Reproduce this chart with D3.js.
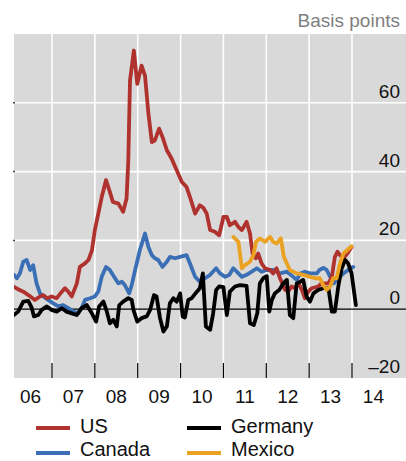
<!DOCTYPE html>
<html>
<head>
<meta charset="utf-8">
<script src="https://cdn.jsdelivr.net/npm/d3@7"></script>
<style>
  body { margin: 0; background: #fff; }
  svg { display: block; font-family: "Liberation Sans", Arial, sans-serif; }
  .grid line { stroke: #fff; stroke-width: 1.6; }
  .series { fill: none; stroke-width: 3.8; stroke-linejoin: round; stroke-linecap: round; }
</style>
</head>
<body>
<svg id="chart" width="406" height="461"></svg>
<script>
// dates are decimal years, values in basis points
const usDates = [2006.11, 2006.21, 2006.33, 2006.45, 2006.60, 2006.72, 2006.80, 2006.88, 2006.99, 2007.11,
  2007.23, 2007.30, 2007.38, 2007.46, 2007.58, 2007.65, 2007.77, 2007.85, 2007.93, 2008.00,
  2008.08, 2008.16, 2008.26, 2008.35, 2008.42, 2008.55, 2008.66, 2008.74, 2008.78, 2008.82,
  2008.91, 2008.99, 2009.09, 2009.17, 2009.25, 2009.33, 2009.40, 2009.50, 2009.58, 2009.68,
  2009.79, 2009.91, 2010.03, 2010.14, 2010.22, 2010.34, 2010.45, 2010.53, 2010.61, 2010.69,
  2010.80, 2010.90, 2011.00, 2011.08, 2011.15, 2011.27, 2011.35, 2011.43, 2011.54, 2011.62,
  2011.68, 2011.76, 2011.81, 2011.89, 2011.97, 2012.09, 2012.16, 2012.24, 2012.32, 2012.44,
  2012.51, 2012.59, 2012.67, 2012.75, 2012.83, 2012.90, 2012.98, 2013.06, 2013.21, 2013.29,
  2013.45, 2013.53, 2013.60, 2013.66, 2013.72, 2013.80, 2013.89, 2013.99];
const usValues = [6.5, 5.8, 5.1, 4.1, 2.7, 3.7, 4.1, 3.2, 3.7, 3.2,
  5.1, 6.1, 5.1, 3.7, 7.5, 12.3, 13.3, 14.3, 17, 23,
  27.8, 32.6, 37.5, 34.1, 31.2, 30.7, 28.3, 32.2, 43, 66.5,
  75.2, 65.5, 70.8, 67.9, 56.8, 48.6, 49.1, 52.5, 50, 46.2,
  43.8, 40.4, 37, 35.5, 32.6, 27.8, 30.2, 29.5, 27.8, 23,
  22.5, 21.5, 26.8, 26.8, 24.4, 25.4, 23.9, 23, 25.4, 22,
  16.2, 14.8, 16.2, 13.3, 11.9, 11.4, 10.4, 11.9, 9, 5.6,
  5.1, 6.6, 6.1, 7.5, 5.6, 3.2, 5.1, 6.1, 6.6, 7.5,
  7.5, 9.4, 15.2, 16.7, 15.7, 14.8, 16.2, 18.1];

const canadaDates = [2006.11, 2006.18, 2006.25, 2006.33, 2006.41, 2006.49, 2006.56, 2006.64, 2006.72, 2006.80,
  2006.91, 2007.03, 2007.15, 2007.26, 2007.38, 2007.50, 2007.61, 2007.69, 2007.77, 2007.89,
  2008.00, 2008.08, 2008.16, 2008.26, 2008.35, 2008.47, 2008.55, 2008.63, 2008.70, 2008.80,
  2008.86, 2008.94, 2009.05, 2009.17, 2009.25, 2009.33, 2009.40, 2009.48, 2009.58, 2009.68,
  2009.75, 2009.87, 2009.99, 2010.14, 2010.22, 2010.34, 2010.45, 2010.57, 2010.69, 2010.83,
  2010.92, 2011.04, 2011.14, 2011.23, 2011.35, 2011.43, 2011.54, 2011.66, 2011.78, 2011.89,
  2012.01, 2012.16, 2012.32, 2012.48, 2012.63, 2012.71, 2012.79, 2012.90, 2013.02, 2013.18,
  2013.24, 2013.33, 2013.41, 2013.49, 2013.58, 2013.68, 2013.80, 2013.91, 2014.03];
const canadaValues = [10, 9, 10.4, 13.8, 14.3, 11.4, 12.8, 7.5, 4.6, 3.7,
  2.7, 1.7, 0.8, 1.2, 0.3, -0.7, -1.2, 0.3, 2.7, 3.2,
  3.7, 5.1, 9.4, 12.3, 11.4, 9, 7.5, 8, 7, 4.6,
  7, 11.4, 17.2, 22, 18.1, 15.7, 14.8, 14.3, 12.3, 13.8,
  15.2, 14.8, 15.2, 15.7, 13.3, 9.4, 8, 9, 10, 11.9,
  10.4, 9.4, 10, 11.9, 10.4, 9.4, 10, 10.9, 11.9, 10.9,
  11.4, 11.4, 10.4, 10.9, 9.4, 8.5, 10.4, 10.9, 10.4, 10.4,
  11.4, 12, 11.4, 9.4, 7.5, 9, 10.4, 11.4, 12.3];

const germanyDates = [2006.11, 2006.21, 2006.33, 2006.45, 2006.53, 2006.58, 2006.68, 2006.76, 2006.88, 2006.99,
  2007.11, 2007.23, 2007.34, 2007.46, 2007.58, 2007.69, 2007.81, 2007.93, 2008.03, 2008.10,
  2008.20, 2008.28, 2008.35, 2008.43, 2008.51, 2008.57, 2008.66, 2008.78, 2008.86, 2008.90,
  2008.99, 2009.09, 2009.21, 2009.29, 2009.38, 2009.44, 2009.52, 2009.60, 2009.68, 2009.75,
  2009.83, 2009.91, 2009.99, 2010.05, 2010.10, 2010.18, 2010.26, 2010.38, 2010.45, 2010.52,
  2010.59, 2010.69, 2010.76, 2010.83, 2010.90, 2011.00, 2011.08, 2011.15, 2011.27, 2011.39,
  2011.54, 2011.62, 2011.71, 2011.79, 2011.85, 2011.93, 2012.01, 2012.07, 2012.13, 2012.20,
  2012.30, 2012.40, 2012.48, 2012.55, 2012.63, 2012.71, 2012.79, 2012.86, 2012.94, 2013.02,
  2013.10, 2013.21, 2013.33, 2013.45, 2013.53, 2013.60, 2013.68, 2013.76, 2013.84, 2013.91,
  2013.99, 2014.09];
const germanyValues = [-1.7, -0.7, 2.2, 2.4, 0.3, -2.1, -1.7, -0.2, 0.8, -0.2,
  -0.7, 0.3, -0.7, -1.2, -1.7, 0.3, 1.2, -1.2, -3.6, 0.8,
  2.2, -0.7, -4.1, -3.1, -5, 1.2, 2.2, 3.2, 2.7, -0.2,
  -3.6, -2.6, -2.1, -0.2, 4.1, 3.7, -2.6, -6.5, -5, 1.7,
  3.2, 2.2, 4.6, -2.1, -2.4, 2.7, 3.2, 5.1, 6.1, 10.4,
  -5, -6, -1.2, 5.6, 6.6, 6.4, -1.7, 5.1, 6.6, 7,
  6.8, -4.1, -4.6, -1.2, 7.5, 9, 9.6, -0.7, 2.7, 4.6,
  5.6, 7.5, 8.5, -1.7, -2.6, 7.5, 8, 8.5, 3.7, 2.2,
  4.6, 5.6, 6.1, 6.1, -0.7, -0.7, 6.6, 11.9, 14.3, 13.3,
  10.4, 1.2];

const mexicoDates = [2011.23, 2011.35, 2011.43, 2011.50, 2011.62, 2011.70, 2011.76, 2011.85, 2011.97, 2012.09,
  2012.16, 2012.24, 2012.34, 2012.41, 2012.55, 2012.71, 2012.86, 2013.02, 2013.14, 2013.25,
  2013.33, 2013.41, 2013.49, 2013.56, 2013.64, 2013.72, 2013.80, 2013.89, 2013.99];
const mexicoValues = [21, 19.6, 11.9, 12.8, 13.8, 15.7, 19.6, 20.6, 19.6, 21,
  19.6, 19.1, 20.6, 15.2, 11.4, 10.4, 10, 9.4, 9, 9,
  7, 5.6, 6.6, 9, 9, 13.3, 16.2, 17.2, 18.3];

const yearLabels = ['06', '07', '08', '09', '10', '11', '12', '13', '14'];
const yTicks = [-20, 0, 20, 40, 60];

const seriesNames = ['US', 'Canada', 'Germany', 'Mexico'];
const seriesColors = { US: '#b0322e', Canada: '#3a6fb5', Germany: '#000000', Mexico: '#eba222' };

function zip(dates, values) {
    return dates.map((d, i) => ({ t: d, v: values[i] }));
}

const seriesData = {
    US: zip(usDates, usValues),
    Canada: zip(canadaDates, canadaValues),
    Germany: zip(germanyDates, germanyValues),
    Mexico: zip(mexicoDates, mexicoValues)
};

function drawChart() {
    const svg = d3.select('#chart');
    const plot = { left: 14, right: 406, top: 34, bottom: 378 };

    const x = d3.scaleLinear().domain([2006, 2014]).range([9.14, 352]);
    const y = d3.scaleLinear().domain([-20, 80]).range([plot.bottom, plot.top]);

    svg.append('defs').append('clipPath')
        .attr('id', 'plot-clip')
        .append('rect')
        .attr('x', plot.left)
        .attr('y', plot.top)
        .attr('width', plot.right - plot.left)
        .attr('height', plot.bottom - plot.top);

    // grey background
    svg.append('rect')
        .attr('x', plot.left)
        .attr('y', plot.top)
        .attr('width', plot.right - plot.left)
        .attr('height', plot.bottom - plot.top)
        .attr('fill', '#d9d9d9');

    const yearBounds = d3.range(2007, 2015);

    // grid lines
    const grid = svg.append('g').attr('class', 'grid');
    grid.selectAll('.vgrid')
        .data(yearBounds)
        .enter()
        .append('line')
        .attr('x1', d => x(d))
        .attr('x2', d => x(d))
        .attr('y1', plot.top)
        .attr('y2', plot.bottom);
    grid.selectAll('.hgrid')
        .data(yTicks.filter(d => d > 0))
        .enter()
        .append('line')
        .attr('x1', plot.left)
        .attr('x2', plot.right)
        .attr('y1', d => y(d))
        .attr('y2', d => y(d));

    // small ticks on the left edge
    svg.selectAll('.ltick')
        .data(yTicks.filter(d => d > 0))
        .enter()
        .append('line')
        .attr('x1', plot.left - 1)
        .attr('x2', plot.left + 1)
        .attr('y1', d => y(d))
        .attr('y2', d => y(d))
        .attr('stroke', '#444')
        .attr('stroke-width', 1.5);

    // zero line
    svg.append('line')
        .attr('x1', plot.left)
        .attr('x2', plot.right)
        .attr('y1', y(0))
        .attr('y2', y(0))
        .attr('stroke', '#000')
        .attr('stroke-width', 1.2);

    // bottom tick marks at year boundaries
    svg.selectAll('.xtick')
        .data(yearBounds)
        .enter()
        .append('line')
        .attr('x1', d => x(d))
        .attr('x2', d => x(d))
        .attr('y1', plot.bottom - 15)
        .attr('y2', plot.bottom)
        .attr('stroke', '#000')
        .attr('stroke-width', 1.2);

    // series lines
    const line = d3.line()
        .x(d => x(d.t))
        .y(d => y(d.v));

    const lines = svg.append('g').attr('clip-path', 'url(#plot-clip)');
    ['Canada', 'US', 'Germany', 'Mexico'].forEach(name => {
        lines.append('path')
            .datum(seriesData[name])
            .attr('class', 'series')
            .attr('stroke', seriesColors[name])
            .attr('d', line);
    });

    // y labels, right aligned, sitting above their grid line
    svg.selectAll('.ylabel')
        .data(yTicks)
        .enter()
        .append('text')
        .attr('x', 400)
        .attr('y', d => y(d) - 5)
        .attr('text-anchor', 'end')
        .attr('font-size', 19)
        .attr('fill', '#111')
        .text(d => d < 0 ? '\u2013' + Math.abs(d) : d);

    svg.append('text')
        .attr('x', 400)
        .attr('y', 27)
        .attr('text-anchor', 'end')
        .attr('font-size', 19)
        .attr('fill', '#7f7f7f')
        .text('Basis points');

    // year labels centred on each year
    svg.selectAll('.xlabel')
        .data(yearLabels)
        .enter()
        .append('text')
        .attr('x', (d, i) => x(2006 + i + 0.5))
        .attr('y', 403)
        .attr('text-anchor', 'middle')
        .attr('font-size', 19)
        .attr('fill', '#111')
        .text(d => d);

    // legend
    const legendPos = [
        { name: 'US', x: 36, y: 428 },
        { name: 'Germany', x: 187, y: 428 },
        { name: 'Canada', x: 36, y: 453 },
        { name: 'Mexico', x: 187, y: 453 }
    ];
    const legend = svg.selectAll('.legend')
        .data(legendPos)
        .enter()
        .append('g')
        .attr('transform', d => `translate(${d.x},${d.y})`);
    legend.append('line')
        .attr('x1', 0)
        .attr('x2', 34)
        .attr('stroke', d => seriesColors[d.name])
        .attr('stroke-width', 4);
    legend.append('text')
        .attr('x', 44)
        .attr('y', d => d.y > 440 ? 3 : 5)
        .attr('font-size', 20)
        .attr('fill', '#111')
        .text(d => d.name);
}

document.addEventListener('DOMContentLoaded', drawChart);
</script>
</body>
</html>
